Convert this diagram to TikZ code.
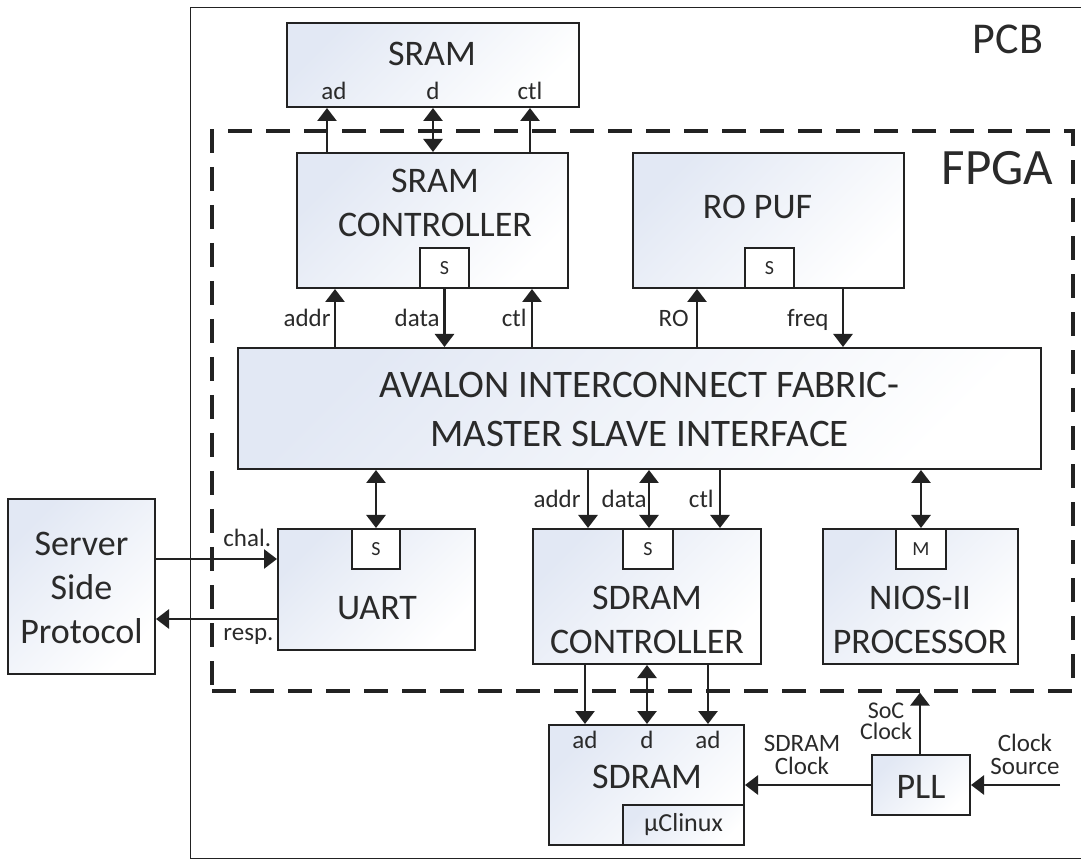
\documentclass[tikz,border=0pt]{standalone}
\usepackage{fontspec}
\setmainfont{Carlito}
\usetikzlibrary{arrows.meta,positioning}
\definecolor{ink}{HTML}{222222}
\definecolor{txt}{HTML}{2A2A2A}
\definecolor{tint}{HTML}{E2E8F4}
\tikzset{line width=1pt,
  blk/.style 2 args={draw=ink,line width=1pt,top color=tint,bottom color=white,
    shading angle=45,inner sep=0pt,minimum width=#1,minimum height=#2},
  port/.style={draw=ink,line width=1pt,fill=white,inner sep=0pt,minimum width=24.5pt,
    minimum height=20pt,text=txt,font=\fontsize{10}{12}\selectfont},
  txtbig/.style={text=txt,inner sep=0pt,align=center,font=\fontsize{18}{22}\selectfont},
  lbl/.style={text=txt,inner sep=0pt,align=center,font=\fontsize{12.5}{11.5}\selectfont},
  arr/.style={draw=ink,line width=1.4pt,-{Triangle[width=9.5pt,length=6.5pt]}},
  biarr/.style={draw=ink,line width=1.4pt,{Triangle[width=9.5pt,length=6.5pt]}-{Triangle[width=9.5pt,length=6.5pt]}},
  fpgaline/.style={draw=ink,line width=1.6pt,dash pattern=on 12pt off 7pt}}
\begin{document}
\begin{tikzpicture}[x=0.5pt,y=-0.5pt]
\useasboundingbox (0,0) rectangle (1081,860);
\draw[ink] (1081,7) -| (190,858) -- (1081,858);
\node[fpgaline,minimum width=430.5pt,minimum height=280pt,inner sep=0pt] (fpga) at (642.5,411) {};
\node[text=txt,inner sep=0pt,font=\fontsize{22}{26}\selectfont] (pcbtxt) at (1008,39) {PCB};
\node[text=txt,inner sep=0pt,font=\fontsize{25.5}{30}\selectfont] (fpgatxt) at (997.5,168.5) {FPGA};
\node[blk={146pt}{42pt}] (sram) at (433,65) {};
\node[txtbig] (sramtxt) at (432,53.5) {SRAM};
\node[lbl,anchor=base] (sad) at (334,100) {ad};
\node[lbl,anchor=base] (sd) at (433,100) {d};
\node[lbl,anchor=base] (sctl) at (530,100) {ctl};
\node[blk={135.5pt}{67.5pt}] (sramc) at (432.5,220.5) {};
\node[txtbig] (sramctxt) at (435,202.5) {SRAM\\CONTROLLER};
\node[port] (sramS) at (444.5,268) {S};
\node[blk={135.5pt}{67.5pt}] (ropuf) at (768.5,220.5) {};
\node[txtbig] (ropuftxt) at (757.5,207) {RO PUF};
\node[port] (ropufS) at (769.5,268) {S};
\node[blk={401.5pt}{60.5pt}] (avalon) at (639.5,408.5) {};
\node[txtbig,font=\fontsize{19.5}{24.5}\selectfont] (avalontxt) at (639.5,409)
  {AVALON INTERCONNECT FABRIC-\\MASTER SLAVE INTERFACE};
\node[blk={73.5pt}{87.5pt}] (server) at (81.5,586.5) {};
\node[txtbig] (servertxt) at (81.5,587.5) {Server\\Side\\Protocol};
\node[blk={98.5pt}{60.5pt}] (uart) at (376.5,589.5) {};
\node[txtbig] (uarttxt) at (377,608) {UART};
\node[port,minimum width=24pt] (uartS) at (376,549) {S};
\node[blk={114pt}{67.5pt}] (sdramc) at (647,596.5) {};
\node[txtbig] (sdramctxt) at (647,620) {SDRAM\\CONTROLLER};
\node[port,minimum width=25pt] (sdramS) at (648,549) {S};
\node[blk={97.5pt}{67.5pt}] (nios) at (920.5,596.5) {};
\node[txtbig] (niostxt) at (920,620) {NIOS-II\\PROCESSOR};
\node[port,minimum width=25pt] (niosM) at (921,549) {M};
\node[blk={97.5pt}{60pt}] (sdram) at (646.5,785) {};
\node[txtbig] (sdramtxt) at (647,777) {SDRAM};
\node[blk={60.5pt}{20pt}] (ucl) at (683.5,825) {};
\node[lbl,font=\fontsize{13}{14}\selectfont] (ucltxt) at (683.5,825) {µClinux};
\node[lbl,anchor=base] (dad1) at (585,748) {ad};
\node[lbl,anchor=base] (dd) at (647,748) {d};
\node[lbl,anchor=base] (dad2) at (708,748) {ad};
\node[blk={49pt}{30pt}] (pll) at (921,785) {};
\node[txtbig] (plltxt) at (921,787) {PLL};
\coordinate (clksrc) at (1060,785);
\foreach \x/\s in {327/arr,433/biarr,530/arr}
  \draw[\s] (sramc.north -| \x,0) -- (sram.south -| \x,0);
\foreach \x in {335,532,697}
  \draw[arr] (avalon.north -| \x,0) -- (sramc.south -| \x,0);
\draw[arr] (sramS.south) -- (avalon.north -| sramS.south);
\draw[arr] (ropuf.south -| 843,0) -- (avalon.north -| 843,0);
\node[lbl,anchor=base east] (laddr) at (331,327) {addr};
\node[lbl,anchor=base east] (ldata) at (440,327) {data};
\node[lbl,anchor=base east] (lctl) at (527,327) {ctl};
\node[lbl,anchor=base east] (lro) at (689,327) {RO};
\node[lbl,anchor=base east] (lfreq) at (829,327) {freq};
\draw[biarr] (avalon.south -| uartS.north) -- (uartS.north);
\foreach \x/\s in {588/arr,649/biarr,720/arr}
  \draw[\s] (avalon.south -| \x,0) -- (sdramc.north -| \x,0);
\draw[biarr] (avalon.south -| niosM.north) -- (niosM.north);
\node[lbl,anchor=base east] (baddr) at (581,508) {addr};
\node[lbl,anchor=base east] (bdata) at (647,508) {data};
\node[lbl,anchor=base east] (bctl) at (714,508) {ctl};
\foreach \x/\s in {585/arr,647/biarr,708/arr}
  \draw[\s] (sdramc.south -| \x,0) -- (sdram.north -| \x,0);
\draw[arr] (server.east |- 0,559) -- (uart.west |- 0,559);
\draw[arr] (uart.west |- 0,619) -- (server.east |- 0,619);
\node[lbl,anchor=base west] (lchal) at (223,546) {chal.};
\node[lbl,anchor=base west] (lresp) at (223,640) {resp.};
\draw[arr] (pll.north -| 920,0) -- (fpga.south -| 920,0);
\draw[arr] (pll.west) -- (sdram.east |- pll.west);
\draw[arr] (clksrc) -- (pll.east);
\node[lbl,font=\fontsize{12}{10.5}\selectfont] (lsoc) at (886,721.5) {SoC\\Clock};
\node[lbl] (lsdclk) at (802,754.5) {SDRAM\\Clock};
\node[lbl] (lclksrc) at (1025,754) {Clock\\Source};
\end{tikzpicture}
\end{document}
